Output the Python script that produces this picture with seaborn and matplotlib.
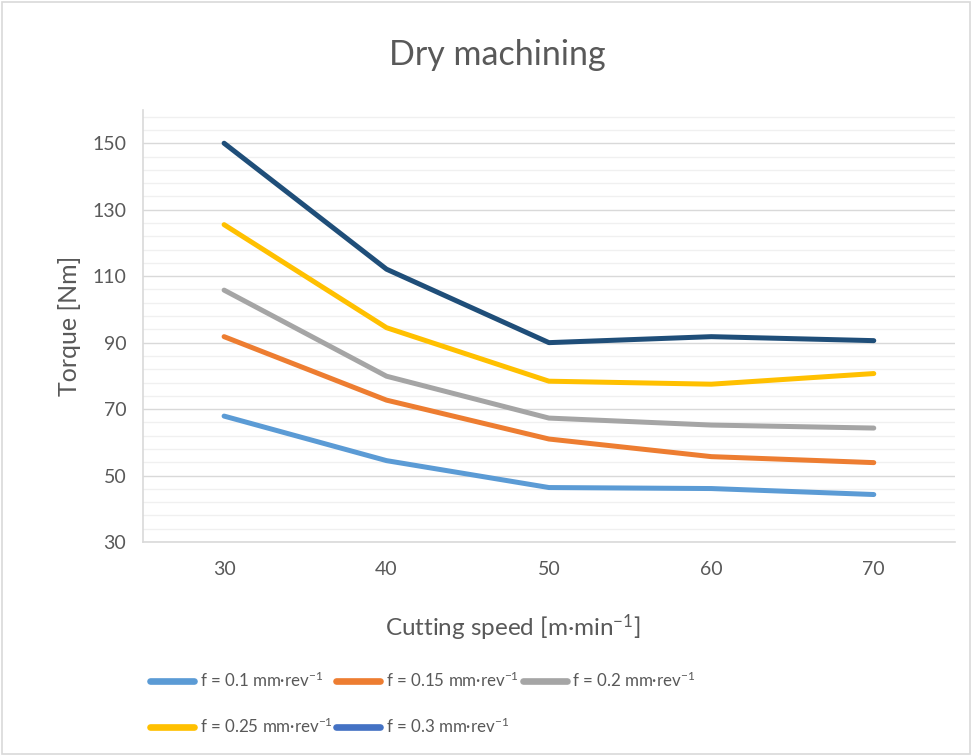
import matplotlib
matplotlib.use("Agg")
import matplotlib.pyplot as plt
from matplotlib.lines import Line2D
from matplotlib.patches import Rectangle
import seaborn as sns
import pandas as pd

# Cutting speed categories [m/min]
speeds = ["30", "40", "50", "60", "70"]

# Torque [Nm] for each feed rate
torque_f010 = [67.9, 54.5, 46.4, 46.1, 44.3]
torque_f015 = [91.8, 72.7, 61.0, 55.7, 53.9]
torque_f020 = [105.8, 79.9, 67.3, 65.2, 64.3]
torque_f025 = [125.5, 94.5, 78.4, 77.5, 80.7]
torque_f030 = [150.0, 112.1, 90.0, 91.8, 90.6]

series_labels = [
    r"f = 0.1 mm·rev$^{\mathregular{-1}}$",
    r"f = 0.15 mm·rev$^{\mathregular{-1}}$",
    r"f = 0.2 mm·rev$^{\mathregular{-1}}$",
    r"f = 0.25 mm·rev$^{\mathregular{-1}}$",
    r"f = 0.3 mm·rev$^{\mathregular{-1}}$",
]
line_colors = ["#5B9BD5", "#ED7D31", "#A5A5A5", "#FFC000", "#1F4E79"]
legend_colors = ["#5B9BD5", "#ED7D31", "#A5A5A5", "#FFC000", "#4472C4"]

series_values = [torque_f010, torque_f015, torque_f020, torque_f025, torque_f030]
rows = []
for lab, vals in zip(series_labels, series_values):
    for s, v in zip(speeds, vals):
        rows.append({"speed": s, "torque": v, "feed": lab})
df = pd.DataFrame(rows)

sns.set_theme(style="white")
plt.rcParams["font.family"] = ["Lato", "DejaVu Sans"]
plt.rcParams["mathtext.fontset"] = "custom"
plt.rcParams["mathtext.rm"] = "Lato"
plt.rcParams["mathtext.it"] = "Lato:italic"
plt.rcParams["mathtext.bf"] = "Lato:bold"

text_color = "#595959"
fig = plt.figure(figsize=(9.72, 7.56), dpi=100)
ax = fig.add_axes([0.147, 0.283, 0.8355, 0.5715])

sns.lineplot(
    data=df, x="speed", y="torque", hue="feed",
    palette=dict(zip(series_labels, line_colors)),
    hue_order=series_labels, sort=False, linewidth=3.6,
    legend=False, ax=ax,
)
for ln in ax.lines:
    ln.set_solid_capstyle("round")
    ln.set_solid_joinstyle("round")

ax.set_xlim(-0.5, 4.5)
ax.set_ylim(30, 160)
ax.set_yticks(list(range(30, 151, 20)))
ax.set_yticks(list(range(30, 160, 4)), minor=True)
ax.grid(axis="y", which="major", color="#D9D9D9", linewidth=1.0)
ax.grid(axis="y", which="minor", color="#F0F0F0", linewidth=1.0)
ax.grid(axis="x", visible=False)
ax.set_axisbelow(True)

for side in ["top", "right"]:
    ax.spines[side].set_visible(False)
for side in ["left", "bottom"]:
    ax.spines[side].set_color("#D9D9D9")
    ax.spines[side].set_linewidth(1.2)

ax.tick_params(axis="both", which="both", length=0, labelsize=14,
               labelcolor=text_color)
ax.tick_params(axis="x", pad=14)
ax.tick_params(axis="y", pad=12)

ax.set_xlabel(r"Cutting speed [m·min$^{\mathregular{-1}}$]", fontsize=17.5,
              color=text_color)
ax.xaxis.set_label_coords(0.455, -0.162)
ax.set_ylabel("Torque [Nm]", fontsize=18, color=text_color, labelpad=8)
fig.text(0.512, 0.927, "Dry machining", ha="center", va="center",
         fontsize=24.5, color=text_color)

# legend entries laid out row by row (matplotlib fills columns first)
order = [0, 3, 1, 4, 2]
handles = [Line2D([0], [0], color=legend_colors[i], linewidth=4.8,
                  solid_capstyle="round") for i in order]
labels = [series_labels[i] for i in order]
fig.legend(handles, labels, loc="upper left",
           bbox_to_anchor=(0.142, 0.129), ncol=3, frameon=False,
           fontsize=12.2, handlelength=2.6, handletextpad=0.35,
           columnspacing=0.2, labelspacing=1.6, labelcolor=text_color,
           borderpad=0.2)

fig.patches.append(Rectangle((0.002, 0.002), 0.996, 0.996,
                             transform=fig.transFigure, fill=False,
                             edgecolor="#D9D9D9", linewidth=1.2))

fig.savefig("out.png", dpi=100)
